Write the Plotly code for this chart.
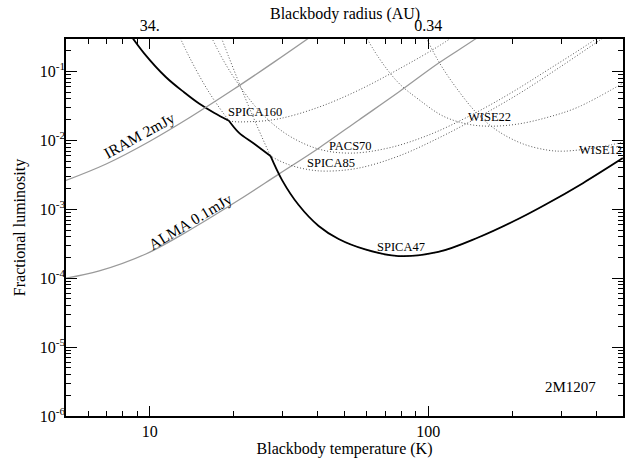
import plotly.graph_objects as go
import math

# ---------------- data ----------------
# black envelope (best SPICA sensitivity): three pieces joined at the kinks (None = break)
T_black = [8.29, 9.54, 11.41, 13.27, 15.02, 16.99, 19.23, None,
           19.23, 20.87, 23.63, 27.12, None,
           27.12, 29.84, 34.23, 40.38, 47.62, 59.35, 78.1, 108.6, 151.0, 210.1, 261.7, 358.9, 499.2]
f_black = [0.397, 0.184, 0.0835, 0.0501, 0.0344, 0.0253, 0.01936, None,
           0.01936, 0.01302, 0.00902, 0.00596, None,
           0.00596, 0.00266, 0.001154, 5.73e-4, 3.71e-4, 2.62e-4, 2.10e-4, 2.41e-4, 3.90e-4, 7.23e-4,
           1.154e-3, 2.40e-3, 5.54e-3]

T_spica160 = [8.29, 9.54, 11.41, 13.27, 15.02, 16.99, 19.23, 22.86, 29.03, 40.38, 56.16, 78.1, 108.6, 139.1]
f_spica160 = [0.397, 0.184, 0.0835, 0.0501, 0.0344, 0.0253, 0.01936, 0.01873, 0.02063, 0.0304, 0.0536,
              0.108, 0.2326, 0.4534]

T_spica85 = [12.22, 13.82, 16.31, 19.23, 20.87, 23.63, 27.12, 31.52, 37.18, 43.14, 56.16, 78.1,
             108.6, 151.0, 210.1, 292.5, 406.8, 499.2]
f_spica85 = [0.4847, 0.1666, 0.0501, 0.01936, 0.01302, 0.00902, 0.00596, 0.00446, 0.00377,
             0.00359, 0.00397, 0.00592, 0.0108, 0.02176, 0.0469, 0.1116, 0.2748, 0.4847]

T_pacs70 = [16.31, 18.45, 21.76, 25.66, 31.52, 40.38, 52.58, 71.94, 100, 139.1, 193.4, 269, 374.1, 499.2]
f_pacs70 = [0.376, 0.141, 0.0508, 0.02296, 0.01178, 0.0075, 0.00655, 0.00778, 0.01194, 0.0222, 0.0463, 0.1062,
            0.2487, 0.5577]

T_spica47 = [16.99, 19.23, 21.76, 24.62, 27.12, 29.84, 34.23, 40.38, 47.62, 59.35, 78.1, 108.6, 151.0,
             210.1, 261.7, 358.9, 499.2]
f_spica47 = [0.5923, 0.1611, 0.0461, 0.01419, 0.00596, 0.00266, 0.001154, 5.73e-4, 3.71e-4, 2.62e-4,
             2.10e-4, 2.41e-4, 3.90e-4, 7.23e-4, 1.154e-3, 2.40e-3, 5.54e-3]

T_wise22 = [56.16, 66.22, 78.1, 92.1, 113.2, 139.1, 166.9, 210.1, 269, 344.4, 499.2]
f_wise22 = [0.501, 0.161, 0.0688, 0.0397, 0.0225, 0.01722, 0.01611, 0.01734, 0.02176, 0.0304, 0.0677]

T_wise12 = [92.1, 108.6, 128.1, 151.0, 178.1, 218.9, 269, 306.9, 406.3, 499.2]
f_wise12 = [0.5358, 0.1429, 0.05305, 0.02373, 0.01364, 0.0089, 0.00723, 0.007, 0.00794, 0.00945]

T_iram = [5, 7, 10, 14, 20, 28, 40]
f_iram = [0.00263, 0.004595, 0.00975, 0.0219, 0.05526, 0.1382, 0.3764]

T_alma = [5, 6.584, 9.676, 14.21, 20.87, 29.03, 40.38, 56.16, 78.1, 108.6, 146.9, 177.8]
f_alma = [1e-4, 1.276e-4, 2.25e-4, 5.27e-4, 1.364e-3, 3.25e-3, 7.73e-3, 0.0197, 0.0501, 0.1319, 0.2938, 0.518]

# axis ticks
x_major = [10, 100]
x_major_text = ["10", "100"]
x_top_text = ["34.", "0.34"]
x_minor = [6, 7, 8, 9, 20, 30, 40, 50, 60, 70, 80, 90, 200, 300, 400]
y_major = [1e-6, 1e-5, 1e-4, 1e-3, 1e-2, 1e-1]
y_major_text = ["10<sup>-6</sup>", "10<sup>-5</sup>", "10<sup>-4</sup>", "10<sup>-3</sup>",
                "10<sup>-2</sup>", "10<sup>-1</sup>"]
y_minor = [k * 10.0 ** e for e in range(-6, 0) for k in range(2, 10) if k * 10.0 ** e < 0.3]

x_range = [math.log10(5), math.log10(500)]
y_range = [-6, -0.527]

FONT = "Liberation Serif"
DOT = "1px,2px"
DOTCOL = "#555555"
GRAY = "#9a9a9a"

fig = go.Figure()

fig.add_trace(go.Scatter(x=T_iram, y=f_iram, mode="lines", xaxis="x2", yaxis="y",
                         line=dict(color=GRAY, width=1.3, shape="spline"), hoverinfo="skip"))
fig.add_trace(go.Scatter(x=T_alma, y=f_alma, mode="lines",
                         line=dict(color=GRAY, width=1.3, shape="spline"), hoverinfo="skip"))

for T, f in [(T_spica160, f_spica160), (T_spica85, f_spica85), (T_pacs70, f_pacs70),
             (T_spica47, f_spica47), (T_wise22, f_wise22), (T_wise12, f_wise12)]:
    fig.add_trace(go.Scatter(x=T, y=f, mode="lines",
                             line=dict(color=DOTCOL, width=1, dash=DOT, shape="spline"), hoverinfo="skip"))

fig.add_trace(go.Scatter(x=T_black, y=f_black, mode="lines", connectgaps=False,
                         line=dict(color="black", width=1.8, shape="spline"), hoverinfo="skip"))

axis_common = dict(type="log", showgrid=False, zeroline=False, showline=True, linecolor="black",
                   linewidth=1.5, ticks="inside", tickcolor="black", tickwidth=1.2,
                   tickfont=dict(family=FONT, size=16, color="black"))

fig.update_layout(
    width=631, height=464,
    margin=dict(l=66, r=6, t=39, b=48),
    paper_bgcolor="white", plot_bgcolor="white",
    showlegend=False,
    font=dict(family=FONT, size=16, color="black"),
    xaxis=dict(**axis_common, range=x_range, tickvals=x_major, ticktext=x_major_text, ticklen=10,
               minor=dict(tickvals=x_minor, ticks="inside", ticklen=5, tickcolor="black", tickwidth=1),
               title=dict(text="Blackbody temperature (K)", font=dict(family=FONT, size=16), standoff=4)),
    xaxis2=dict(**axis_common, range=x_range, overlaying="x", side="top", tickvals=x_major,
                ticktext=x_top_text, ticklen=10,
                minor=dict(tickvals=x_minor, ticks="inside", ticklen=5, tickcolor="black", tickwidth=1)),
    yaxis=dict(**axis_common, range=y_range, tickvals=y_major, ticktext=y_major_text, ticklen=11,
               mirror="ticks", ticklabelstandoff=-4,
               minor=dict(tickvals=y_minor, ticks="inside", ticklen=5.5, tickcolor="black", tickwidth=1),
               title=dict(text="Fractional luminosity", font=dict(family=FONT, size=16), standoff=10)),
)

W, H, L, B = 559.0, 377.0, 66.0, 416.0


def px(x, y):
    return (x - L) / W, (B - y) / H


labels = [("SPICA160", 255.5, 112.3, 12.5, 0), ("PACS70", 351.7, 145.7, 12.5, 0),
          ("SPICA85", 332.0, 163.3, 12.5, 0), ("WISE22", 491.0, 117.3, 12.5, 0),
          ("WISE12", 602.5, 150.0, 12.5, 0), ("SPICA47", 402.5, 246.7, 12.5, 0),
          ("2M1207", 572.5, 387.0, 15, 0), ("IRAM 2mJy", 139.0, 135.0, 15.5, -29),
          ("ALMA 0.1mJy", 190.5, 221.0, 15.5, -31),
          ("Blackbody radius (AU)", 346.0, 14.0, 16, 0)]
for text, x, y, size, ang in labels:
    xp, yp = px(x, y)
    fig.add_annotation(text=text, x=xp, y=yp, xref="paper", yref="paper", showarrow=False,
                       xanchor="center", yanchor="middle", textangle=ang,
                       font=dict(family=FONT, size=size, color="black"))

fig.write_html("out.html", config={"displayModeBar": False},
               post_script="document.body.style.margin='0px';")
